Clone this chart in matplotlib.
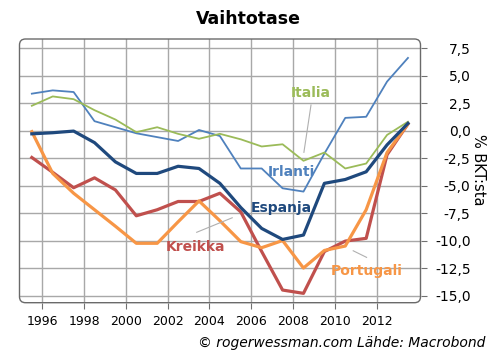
import matplotlib
matplotlib.use('Agg')
import matplotlib.pyplot as plt
from matplotlib.patches import FancyBboxPatch
import numpy as np

# vuosittaiset arvot, % BKT:sta
years = np.arange(1995, 2014)
irlanti = [3.35, 3.65, 3.5, 0.85, 0.3, -0.25, -0.6, -0.95, 0.05, -0.5,
           -3.45, -3.45, -5.25, -5.55, -2.1, 1.15, 1.25, 4.45, 6.6]
italia = [2.25, 3.1, 2.85, 1.85, 1.0, -0.15, 0.3, -0.3, -0.75, -0.3,
          -0.8, -1.45, -1.25, -2.75, -2.0, -3.45, -3.0, -0.4, 0.8]
espanja = [-0.3, -0.2, -0.05, -1.1, -2.85, -3.9, -3.9, -3.25, -3.45, -4.8,
           -7.0, -8.9, -9.9, -9.5, -4.8, -4.45, -3.75, -1.3, 0.65]
kreikka = [-2.45, -3.8, -5.2, -4.3, -5.4, -7.75, -7.2, -6.45, -6.45, -5.7,
           -7.4, -11.0, -14.5, -14.8, -11.0, -10.05, -9.8, -2.2, 0.6]
portugali = [-0.1, -3.9, -5.7, -7.2, -8.7, -10.25, -10.25, -8.3, -6.4, -8.2,
             -10.1, -10.65, -10.0, -12.5, -10.9, -10.5, -7.2, -2.0, 0.6]

yticks = [7.5, 5.0, 2.5, 0.0, -2.5, -5.0, -7.5, -10.0, -12.5, -15.0]
xticks = list(range(1996, 2013, 2))

c_irl = '#4F81BD'
c_ita = '#9BBB59'
c_esp = '#1F497D'
c_kre = '#C0504D'
c_por = '#F79646'

W, H = 496, 361
fig = plt.figure(figsize=(W / 100, H / 100), dpi=100)
x0, x1, y0, y1 = 19.5, 420.5, 39.0, 302.7
ax = fig.add_axes([x0 / W, 1 - y1 / H, (x1 - x0) / W, (y1 - y0) / H])

x = years + 0.5
ax.plot(x, irlanti, color=c_irl, lw=1.3)
ax.plot(x, italia, color=c_ita, lw=1.3)
ax.plot(x, kreikka, color=c_kre, lw=2.3)
ax.plot(x, portugali, color=c_por, lw=2.3)
ax.plot(x, espanja, color=c_esp, lw=2.3)

ax.set_xlim(1994.91, 2014.10)
ax.set_ylim(-15.65, 8.32)
ax.set_xticks(xticks)
ax.set_xticklabels([str(v) for v in xticks], fontsize=9)
ax.set_yticks(yticks)
ax.yaxis.tick_right()
ax.set_yticklabels([('%.1f' % v).replace('.', ',') for v in yticks], fontsize=10)
for lbl in ax.get_yticklabels():
    lbl.set_horizontalalignment('right')
ax.tick_params(axis='y', direction='out', length=4, color='#707070', pad=32)
ax.tick_params(axis='x', direction='out', length=4, color='#707070', pad=5)
ax.grid(True, color='#a8a8a8', lw=1.0)
ax.set_axisbelow(True)
for s in ax.spines.values():
    s.set_visible(False)

# pyöristetty kehys
box = FancyBboxPatch((x0, H - y1), x1 - x0, y1 - y0,
                     boxstyle='round,pad=0,rounding_size=6',
                     transform=None, fill=False, ec='#6a6a6a', lw=1.0)
fig.add_artist(box)

# sarjojen nimet
bold = dict(fontsize=10, fontweight='bold', ha='center', va='center')
ax.text(2008.86, 3.38, 'Italia', color=c_ita, **bold)
ax.text(2007.93, -3.75, 'Irlanti', color=c_irl, **bold)
ax.text(2007.45, -7.07, 'Espanja', color=c_esp, **bold)
ax.text(2003.35, -10.56, 'Kreikka', color=c_kre, **bold)
ax.text(2011.52, -12.77, 'Portugali', color=c_por, **bold)
ax.plot([2008.86, 2008.52], [2.32, -1.98], color='#b0b0b0', lw=0.8)
ax.plot([2003.39, 2005.09], [-9.25, -7.93], color='#b0b0b0', lw=0.8)
ax.plot([2010.88, 2011.52], [-10.93, -11.53], color='#b0b0b0', lw=0.8)

fig.text(0.5, 1 - 19 / H, 'Vaihtotase', fontsize=12.5, fontweight='bold',
         ha='center', va='center')
fig.text(478 / W, 1 - 170 / H, '% BKT:sta', fontsize=10.5, rotation=270,
         ha='center', va='center')
fig.text(485 / W, 1 - 343 / H, '© rogerwessman.com Lähde: Macrobond',
         fontsize=10, style='italic', ha='right', va='center')

fig.savefig('out.png', dpi=100)
